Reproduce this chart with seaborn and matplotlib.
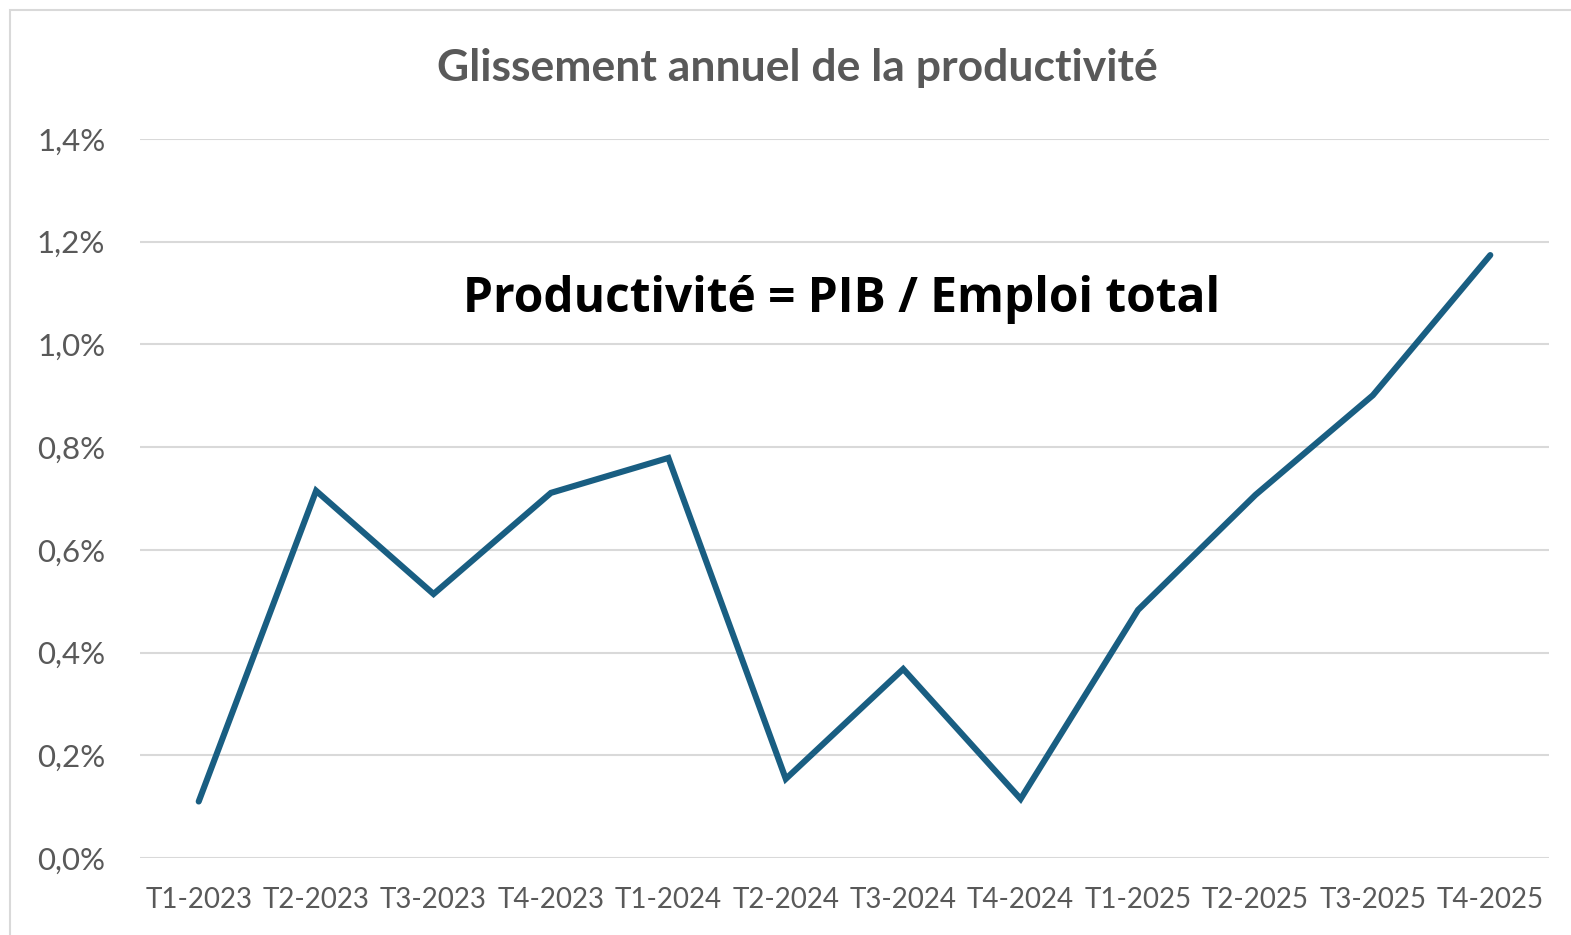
import matplotlib
matplotlib.use("Agg")
import matplotlib.pyplot as plt
import seaborn as sns
import pandas as pd
from matplotlib.patches import Rectangle
from matplotlib.ticker import FuncFormatter

quarters = ["T1-2023", "T2-2023", "T3-2023", "T4-2023", "T1-2024", "T2-2024",
            "T3-2024", "T4-2024", "T1-2025", "T2-2025", "T3-2025", "T4-2025"]
values = [0.11, 0.715, 0.514, 0.711, 0.779, 0.154, 0.368, 0.115, 0.483, 0.707, 0.901, 1.174]
yticks = [0.0, 0.2, 0.4, 0.6, 0.8, 1.0, 1.2, 1.4]
title = "Glissement annuel de la productivité"
note = "Productivité = PIB / Emploi total"

sns.set_theme(style="white")
plt.rcParams['font.family'] = ['Lato', 'DejaVu Sans']

W, H = 1571, 935
fig = plt.figure(figsize=(W / 100, H / 100), dpi=100)
ax = fig.add_axes([140 / W, 1 - 858 / H, (1549 - 140) / W, (858 - 139) / H])

df = pd.DataFrame({"q": quarters, "v": values})
df["x"] = range(len(quarters))
sns.lineplot(data=df, x="x", y="v", ax=ax, color="#195e82", linewidth=4.4,
             solid_capstyle="round", solid_joinstyle="miter")

ax.set_xlim(-0.5, len(quarters) - 0.5)
ax.set_ylim(0, 1.4)
ax.set_yticks(yticks)
ax.yaxis.set_major_formatter(FuncFormatter(lambda v, p: f"{v:.1f}%".replace(".", ",")))
ax.set_xticks(range(len(quarters)))
ax.set_xticklabels(quarters)
ax.tick_params(axis="both", length=0, colors="#595959")
ax.tick_params(axis="x", pad=21, labelsize=20)
ax.tick_params(axis="y", pad=25, labelsize=22.5)
ax.grid(axis="y", color="#d9d9d9", linewidth=1.5)
ax.grid(axis="x", visible=False)
for s in ax.spines.values():
    s.set_visible(False)
ax.set_xlabel("")
ax.set_ylabel("")

fig.text(797 / W, 1 - 68 / H, title, ha="center", va="center", fontsize=32,
         fontweight="bold", color="#595959")
fig.text(842 / W, 1 - 300 / H, note, ha="center", va="center", fontsize=34.5,
         fontweight="bold", color="black", family=["Open Sans", "DejaVu Sans"])

fig.patches.append(Rectangle((10 / W, -0.05), 1.2, 1 - 10 / H + 0.05,
                             transform=fig.transFigure, fill=False,
                             edgecolor="#d9d9d9", linewidth=1.5))

fig.savefig("out.png", dpi=100, facecolor="white")
